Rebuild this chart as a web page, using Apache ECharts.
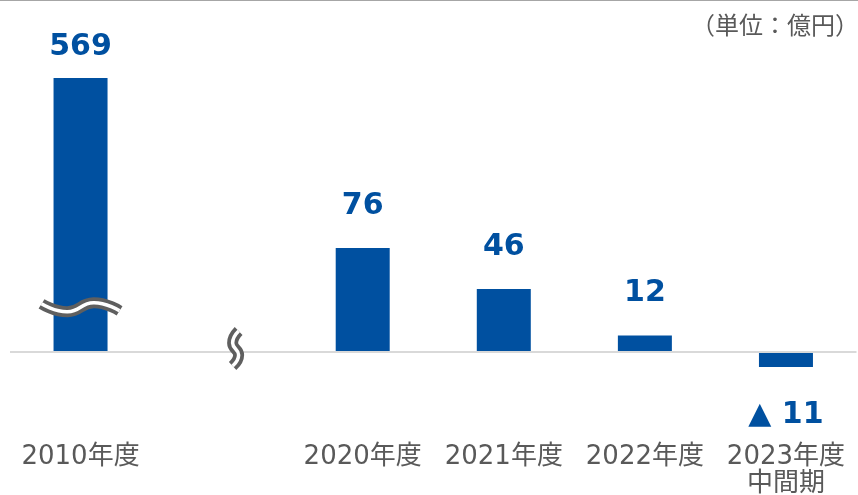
<!DOCTYPE html>
<html>
<head>
<meta charset="utf-8">
<script src="https://cdn.jsdelivr.net/npm/echarts@6/dist/echarts.min.js"></script>
<style>
  html, body { margin: 0; padding: 0; background: #fff; }
  #chart { width: 858px; height: 495px; }
</style>
</head>
<body>
<div id="chart"></div>
<script>
var categories = ['2010年度', '', '2020年度', '2021年度', '2022年度', '2023年度\n中間期'];
var values = [569, null, 76, 46, 12, -11];
var unitText = '（単位：億円）';
// value axis range; 2010年度 is drawn cut off at the top of it (broken bar)
var axisMin = -60;
var axisMax = 200;
var barBreakAt = 33;   // where the wave mark sits on the cut bar

var blue = '#0050a0';
var grey = '#595959';
var labelFont = "'DejaVu Sans', 'Noto Sans CJK JP', sans-serif";

var chart = echarts.init(document.getElementById('chart'), null, { renderer: 'canvas' });

var barData = values.map(function(v) {
  if (v == null) return null;
  var label = { distance: 27 };
  if (v < 0) label = { position: 'bottom', distance: 33 };
  else if (v > axisMax) label = { distance: 16 };
  return { value: Math.min(v, axisMax), label: label };
});

chart.setOption({
  animation: false,
  title: {
    text: unitText,
    right: -6,
    top: 6,
    textStyle: { fontSize: 24, fontWeight: 'normal', color: grey, fontFamily: 'Noto Sans CJK JP', lineHeight: 28 }
  },
  grid: { left: 10, right: 1.5, top: 78, bottom: 60.8, containLabel: false, outerBoundsMode: 'none' },
  xAxis: {
    type: 'category',
    data: categories,
    axisTick: { show: false },
    axisLine: { show: false, onZero: false },
    axisLabel: {
      interval: 0,
      margin: 10,
      fontSize: 26,
      lineHeight: 27,
      color: grey,
      fontFamily: labelFont,
      hideOverlap: false
    }
  },
  yAxis: {
    type: 'value',
    min: axisMin,
    max: axisMax,
    show: false,
    splitLine: { show: false }
  },
  series: [{
    type: 'bar',
    barWidth: 54,
    itemStyle: { color: blue },
    label: {
      show: true,
      position: 'top',
      color: blue,
      fontSize: 30,
      fontWeight: 'bold',
      fontFamily: "'DejaVu Sans', sans-serif",
      formatter: function(p) {
        var v = values[p.dataIndex];
        return v < 0 ? '▲ ' + (-v) : String(v);
      }
    },
    markLine: {
      silent: true,
      symbol: 'none',
      label: { show: false },
      lineStyle: { color: '#d9d9d9', width: 2, type: 'solid' },
      data: [{ yAxis: 0 }]
    },
    data: barData
  }]
});

// break marks: double wavy line = thick grey stroke with a thin white stroke on top
function wave(cx, cy, pts) {
  var shifted = pts.map(function(p) { return [cx + p[0], cy + p[1]]; });
  return [
    { type: 'polyline', z: 100, shape: { points: shifted, smooth: 0.5 },
      style: { stroke: '#5f5f5f', lineWidth: 11, fill: null } },
    { type: 'polyline', z: 101, shape: { points: shifted, smooth: 0.5 },
      style: { stroke: '#fff', lineWidth: 3.5, fill: null } }
  ];
}

var barMark = chart.convertToPixel({ gridIndex: 0 }, [0, barBreakAt]);
var axisMark = chart.convertToPixel({ gridIndex: 0 }, [1, 0]);

var marks = []
  .concat(wave(barMark[0], barMark[1], [[-39, -3], [-13, 5], [13, -4], [39, 4]]))
  .concat(wave(axisMark[0] + 14, axisMark[1] - 3, [[3, -18], [-3, -6], [3, 6], [-3, 17]]));

marks.push({
  type: 'line', z: 100,
  shape: { x1: 0, y1: 0.5, x2: 858, y2: 0.5 },
  style: { stroke: '#a6a6a6', lineWidth: 1 }
});

chart.setOption({ graphic: marks });
</script>
</body>
</html>
